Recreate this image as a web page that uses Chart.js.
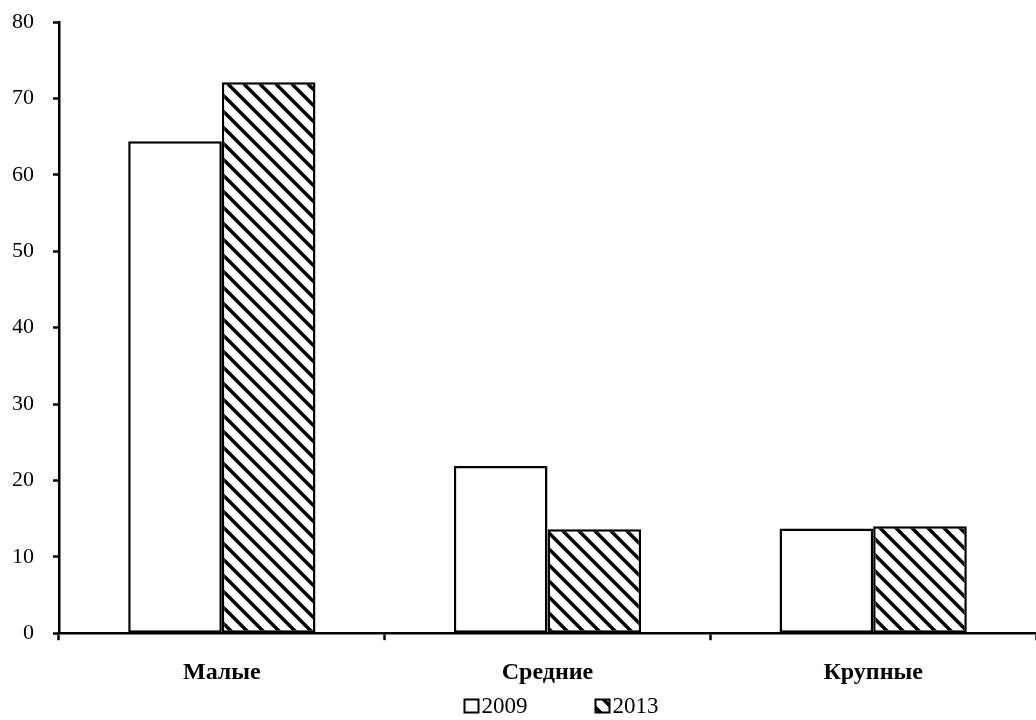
<!DOCTYPE html>
<html>
<head>
<meta charset="utf-8">
<script src="https://cdn.jsdelivr.net/npm/chart.js@4"></script>
<style>
  html, body { margin: 0; padding: 0; background: #fff; }
  #wrap { width: 1036px; height: 720px; }
</style>
</head>
<body>
<div id="wrap"><canvas id="chart"></canvas></div>
<script>
const categories = ["Малые", "Средние", "Крупные"];
const seriesNames = ["2009", "2013"];
const values2009 = [64.4, 21.9, 13.7];
const values2013 = [72.1, 13.6, 14.0];
const yTicks = [0, 10, 20, 30, 40, 50, 60, 70, 80];

// diagonal hatch like the Excel "wide downward diagonal"
function makeHatch() {
  const s = 16;
  const c = document.createElement("canvas");
  c.width = s;
  c.height = s;
  const g = c.getContext("2d");
  g.fillStyle = "#fff";
  g.fillRect(0, 0, s, s);
  g.strokeStyle = "#000";
  g.lineWidth = 3.5;
  g.beginPath();
  g.moveTo(-s, -s); g.lineTo(2 * s, 2 * s);
  g.moveTo(-s, 0); g.lineTo(s, 2 * s);
  g.moveTo(0, -s); g.lineTo(2 * s, s);
  g.stroke();
  return g.createPattern(c, "repeat");
}

// legend drawn by hand so the item spacing can match the original
const bottomLegend = {
  id: "bottomLegend",
  afterDraw(chart) {
    const c = chart.ctx;
    const area = chart.chartArea;
    c.save();
    c.font = "23px 'Liberation Serif'";
    c.textBaseline = "middle";
    const box = 14, gapText = 3, gapItem = 68;
    const items = chart.data.datasets.map(ds => ({
      label: ds.label, fill: ds.backgroundColor,
      w: box + gapText + c.measureText(ds.label).width
    }));
    const total = items.reduce((a, it) => a + it.w, 0) + gapItem * (items.length - 1);
    let x = (area.left + area.right) / 2 + 14 - total / 2;
    const y = 706;
    items.forEach(it => {
      c.fillStyle = it.fill;
      c.fillRect(x, y - 6.5, box, 13);
      c.strokeStyle = "#000";
      c.lineWidth = 2;
      c.strokeRect(x, y - 6.5, box, 13);
      c.fillStyle = "#000";
      c.fillText(it.label, x + box + gapText, y + 1);
      x += it.w + gapItem;
    });
    c.restore();
  }
};

const ctx = document.getElementById("chart");
const hatch = makeHatch();

new Chart(ctx, {
  type: "bar",
  data: {
    labels: categories,
    datasets: [
      {
        label: seriesNames[0],
        data: values2009,
        backgroundColor: "#fff",
        borderColor: "#000",
        borderWidth: 2.5,
        borderSkipped: false
      },
      {
        label: seriesNames[1],
        data: values2013,
        backgroundColor: hatch,
        borderColor: "#000",
        borderWidth: 2.5,
        borderSkipped: false
      }
    ]
  },
  plugins: [bottomLegend],
  options: {
    responsive: true,
    maintainAspectRatio: false,
    animation: false,
    layout: { padding: { top: 0, right: 0, left: 12, bottom: 15 } },
    datasets: {
      bar: { categoryPercentage: 0.575, barPercentage: 1 }
    },
    plugins: {
      tooltip: { enabled: false },
      legend: { display: false }
    },
    scales: {
      x: {
        grid: {
          drawOnChartArea: false,
          drawTicks: true,
          tickLength: 7,
          tickWidth: 2.5,
          color: "#000",
          offset: true
        },
        border: { display: true, color: "#000", width: 2.5 },
        ticks: {
          color: "#000",
          padding: 18,
          font: { family: "Liberation Serif", size: 24, weight: "bold" }
        }
      },
      y: {
        min: 0,
        max: 80,
        afterBuildTicks: axis => {
          axis.ticks = yTicks.map(v => ({ value: v }));
        },
        afterFit: axis => {
          axis.width = 47;
          axis.paddingTop = 22;
          axis.paddingBottom = 2;
        },
        grid: {
          drawOnChartArea: false,
          drawTicks: true,
          tickLength: 6,
          tickWidth: 2.5,
          color: "#000"
        },
        border: { display: true, color: "#000", width: 2.5 },
        ticks: {
          color: "#000",
          padding: 19,
          font: { family: "Liberation Serif", size: 22 }
        }
      }
    }
  }
});
</script>
</body>
</html>
